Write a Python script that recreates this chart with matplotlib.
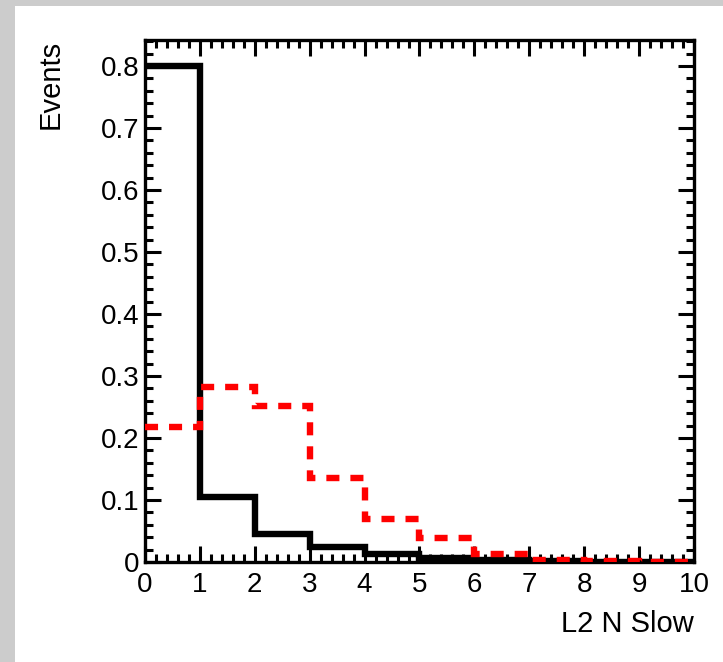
import numpy as np
import matplotlib
matplotlib.use('Agg')
import matplotlib.pyplot as plt
from matplotlib.ticker import MultipleLocator, FixedLocator
from matplotlib.patches import Rectangle

plt.rcParams['font.family'] = ['Liberation Sans', 'DejaVu Sans']
plt.rcParams['lines.scale_dashes'] = False

# histogram bins and contents
bin_edges = [0, 1, 2, 3, 4, 5, 6, 7, 8, 9, 10]
black_counts = [0.800, 0.105, 0.045, 0.025, 0.013, 0.007, 0.003, 0.001, 0.0005, 0.0003]
red_counts = [0.218, 0.283, 0.252, 0.135, 0.070, 0.038, 0.013, 0.004, 0.001, 0.0005]
x_ticks = [0, 1, 2, 3, 4, 5, 6, 7, 8, 9, 10]
y_ticks = [0, 0.1, 0.2, 0.3, 0.4, 0.5, 0.6, 0.7, 0.8]
y_ticklabels = ['0', '0.1', '0.2', '0.3', '0.4', '0.5', '0.6', '0.7', '0.8']

fig = plt.figure(figsize=(7.23, 6.62), dpi=100)
fig.patch.set_facecolor('#cccccc')
panel = Rectangle((15/723, 0), 1, 1 - 6/662, transform=fig.transFigure,
                  facecolor='white', edgecolor='none', zorder=-10)
fig.add_artist(panel)

ax = fig.add_axes([145/723, 1 - 562/662, 549/723, 522/662])
ax.set_zorder(5)
ax.set_facecolor('white')

ax.stairs(black_counts, bin_edges, baseline=None, color='black', linewidth=4.6, zorder=3)
ax.stairs(red_counts, bin_edges, baseline=None, color='#ff0000', linewidth=4.6,
          linestyle=(0, (9.4, 7.9)), zorder=4)

ax.set_xlim(0, 10)
ax.set_ylim(0, 0.842)

ax.xaxis.set_major_locator(FixedLocator(x_ticks))
ax.xaxis.set_minor_locator(MultipleLocator(0.2))
ax.yaxis.set_major_locator(FixedLocator(y_ticks))
ax.yaxis.set_minor_locator(MultipleLocator(0.02))
ax.set_yticklabels(y_ticklabels)

ax.tick_params(which='both', direction='in', top=True, right=True, width=2.2, color='black')
ax.tick_params(which='major', length=11.5, labelsize=20)
ax.tick_params(which='minor', length=6)
ax.tick_params(axis='y', which='major', pad=4)
ax.tick_params(axis='x', which='major', pad=7)
for s in ax.spines.values():
    s.set_linewidth(2.4)

ax.set_xlabel('L2 N Slow', fontsize=21, loc='right', labelpad=9)
ax.set_ylabel('Events', fontsize=21, loc='top', labelpad=26)

fig.savefig('out.png', dpi=100, facecolor=fig.get_facecolor())
